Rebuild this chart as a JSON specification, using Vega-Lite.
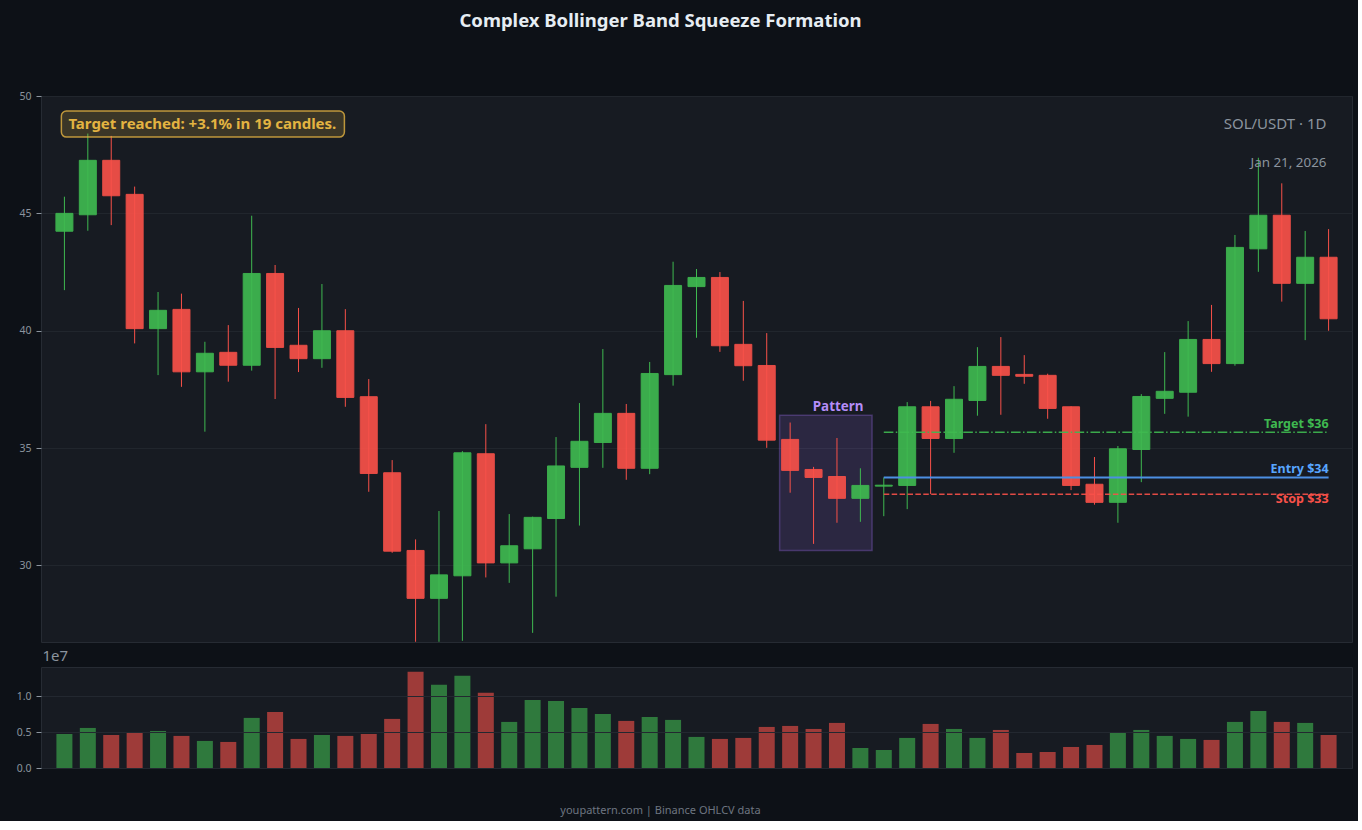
{
  "$schema": "https://vega.github.io/schema/vega-lite/v6.json",
  "background": "#0d1117",
  "padding": {"left": 12, "top": 12, "right": 5, "bottom": 5},
  "title": {"text": "Complex Bollinger Band Squeeze Formation", "color": "#e6edf3", "fontSize": 18.5, "fontWeight": "bold", "font": "Noto Sans", "anchor": "middle", "frame": "group", "offset": 60, "dx": -36},
  "spacing": 25,
  "bounds": "flush",
  "config": {
    "font": "Noto Sans",
    "view": {"fill": "#171b22", "stroke": "#262b33", "strokeWidth": 1},
    "axis": {"domain": false, "labelColor": "#8b949e", "tickColor": "#8b949e", "gridColor": "#21262d", "labelFont": "Noto Sans", "labelFontSize": 10.5, "tickSize": 5, "labelPadding": 5, "titleFont": "Noto Sans"},
    "axisY": {"minExtent": 28, "maxExtent": 28}
  },
  "datasets": {
    "ohlcv": [
      {"i": 0, "o": 44.24, "h": 45.71, "l": 41.73, "c": 45.0, "v": 4740000},
      {"i": 1, "o": 44.94, "h": 48.4, "l": 44.26, "c": 47.26, "v": 5580000},
      {"i": 2, "o": 47.26, "h": 48.3, "l": 44.5, "c": 45.75, "v": 4600000},
      {"i": 3, "o": 45.81, "h": 46.14, "l": 39.46, "c": 40.09, "v": 4880000},
      {"i": 4, "o": 40.09, "h": 41.65, "l": 38.11, "c": 40.87, "v": 5160000},
      {"i": 5, "o": 40.91, "h": 41.58, "l": 37.61, "c": 38.25, "v": 4470000},
      {"i": 6, "o": 38.25, "h": 39.53, "l": 35.7, "c": 39.04, "v": 3770000},
      {"i": 7, "o": 39.08, "h": 40.24, "l": 37.83, "c": 38.53, "v": 3630000},
      {"i": 8, "o": 38.53, "h": 44.9, "l": 38.3, "c": 42.44, "v": 6980000},
      {"i": 9, "o": 42.44, "h": 42.8, "l": 37.09, "c": 39.29, "v": 7810000},
      {"i": 10, "o": 39.38, "h": 40.97, "l": 38.24, "c": 38.81, "v": 4050000},
      {"i": 11, "o": 38.81, "h": 41.99, "l": 38.42, "c": 40.0, "v": 4600000},
      {"i": 12, "o": 40.0, "h": 40.92, "l": 36.76, "c": 37.16, "v": 4470000},
      {"i": 13, "o": 37.19, "h": 37.94, "l": 33.14, "c": 33.92, "v": 4740000},
      {"i": 14, "o": 33.95, "h": 34.49, "l": 30.54, "c": 30.61, "v": 6840000},
      {"i": 15, "o": 30.64, "h": 31.11, "l": 26.75, "c": 28.6, "v": 13400000},
      {"i": 16, "o": 28.6, "h": 32.32, "l": 26.75, "c": 29.6, "v": 11580000},
      {"i": 17, "o": 29.56, "h": 34.87, "l": 26.79, "c": 34.8, "v": 12840000},
      {"i": 18, "o": 34.76, "h": 36.02, "l": 29.49, "c": 30.11, "v": 10470000},
      {"i": 19, "o": 30.11, "h": 32.19, "l": 29.26, "c": 30.84, "v": 6420000},
      {"i": 20, "o": 30.71, "h": 32.08, "l": 27.13, "c": 32.05, "v": 9490000},
      {"i": 21, "o": 32.0, "h": 35.47, "l": 28.67, "c": 34.24, "v": 9350000},
      {"i": 22, "o": 34.18, "h": 36.92, "l": 31.7, "c": 35.29, "v": 8370000},
      {"i": 23, "o": 35.24, "h": 39.22, "l": 34.16, "c": 36.48, "v": 7530000},
      {"i": 24, "o": 36.48, "h": 36.88, "l": 33.65, "c": 34.14, "v": 6560000},
      {"i": 25, "o": 34.14, "h": 38.67, "l": 33.89, "c": 38.18, "v": 7120000},
      {"i": 26, "o": 38.13, "h": 42.94, "l": 37.66, "c": 41.93, "v": 6700000},
      {"i": 27, "o": 41.88, "h": 42.63, "l": 39.7, "c": 42.27, "v": 4330000},
      {"i": 28, "o": 42.27, "h": 42.5, "l": 39.1, "c": 39.36, "v": 4050000},
      {"i": 29, "o": 39.42, "h": 41.27, "l": 37.87, "c": 38.51, "v": 4190000},
      {"i": 30, "o": 38.52, "h": 39.9, "l": 35.01, "c": 35.34, "v": 5720000},
      {"i": 31, "o": 35.37, "h": 36.09, "l": 33.1, "c": 34.05, "v": 5860000},
      {"i": 32, "o": 34.09, "h": 34.2, "l": 30.92, "c": 33.75, "v": 5440000},
      {"i": 33, "o": 33.79, "h": 35.43, "l": 31.82, "c": 32.86, "v": 6280000},
      {"i": 34, "o": 32.86, "h": 34.14, "l": 31.86, "c": 33.41, "v": 2790000},
      {"i": 35, "o": 33.38, "h": 33.75, "l": 32.1, "c": 33.42, "v": 2510000},
      {"i": 36, "o": 33.41, "h": 36.96, "l": 32.4, "c": 36.76, "v": 4190000},
      {"i": 37, "o": 36.76, "h": 37.01, "l": 33.04, "c": 35.41, "v": 6140000},
      {"i": 38, "o": 35.41, "h": 37.64, "l": 34.8, "c": 37.08, "v": 5440000},
      {"i": 39, "o": 37.03, "h": 39.3, "l": 36.38, "c": 38.48, "v": 4190000},
      {"i": 40, "o": 38.48, "h": 39.73, "l": 36.42, "c": 38.1, "v": 5300000},
      {"i": 41, "o": 38.14, "h": 38.96, "l": 37.74, "c": 38.06, "v": 2090000},
      {"i": 42, "o": 38.1, "h": 38.17, "l": 36.25, "c": 36.69, "v": 2230000},
      {"i": 43, "o": 36.76, "h": 36.78, "l": 33.21, "c": 33.41, "v": 2930000},
      {"i": 44, "o": 33.46, "h": 34.62, "l": 32.59, "c": 32.69, "v": 3210000},
      {"i": 45, "o": 32.69, "h": 35.09, "l": 31.82, "c": 34.97, "v": 4880000},
      {"i": 46, "o": 34.94, "h": 37.3, "l": 33.55, "c": 37.2, "v": 5300000},
      {"i": 47, "o": 37.12, "h": 39.09, "l": 36.46, "c": 37.42, "v": 4470000},
      {"i": 48, "o": 37.38, "h": 40.41, "l": 36.34, "c": 39.63, "v": 4050000},
      {"i": 49, "o": 39.63, "h": 41.1, "l": 38.25, "c": 38.6, "v": 3910000},
      {"i": 50, "o": 38.6, "h": 44.08, "l": 38.51, "c": 43.55, "v": 6420000},
      {"i": 51, "o": 43.49, "h": 47.37, "l": 42.51, "c": 44.92, "v": 7950000},
      {"i": 52, "o": 44.92, "h": 46.28, "l": 41.24, "c": 42.02, "v": 6420000},
      {"i": 53, "o": 42.02, "h": 44.25, "l": 39.6, "c": 43.13, "v": 6280000},
      {"i": 54, "o": 43.13, "h": 44.33, "l": 40.0, "c": 40.51, "v": 4600000}
    ],
    "levels": [
      {"name": "Target", "price": 35.68, "start": 35, "end": 54, "label": "Target $36"},
      {"name": "Entry", "price": 33.75, "start": 35, "end": 54, "label": "Entry $34"},
      {"name": "Stop", "price": 33.03, "start": 35, "end": 54, "label": "Stop $33"}
    ]
  },
  "vconcat": [
    {
      "width": 1311,
      "height": 546,
      "data": {"name": "ohlcv"},
      "layer": [
        {
          "data": {"values": [{"label": "Pattern"}]},
          "mark": {"type": "rect", "fill": "#a371f7", "fillOpacity": 0.15, "stroke": "#a371f7", "strokeOpacity": 0.3, "strokeWidth": 1.5},
          "encoding": {
            "x": {"datum": 30.55, "type": "quantitative", "scale": {"domain": [-1, 55], "nice": false, "zero": false, "padding": 0}, "axis": null},
            "x2": {"datum": 34.5},
            "y": {"datum": 30.64, "type": "quantitative", "scale": {"domain": [26.74, 50], "nice": false, "zero": false}, "axis": {"title": null, "values": [30, 35, 40, 45, 50], "grid": true}},
            "y2": {"datum": 36.4}
          }
        },
        {
          "data": {"values": [{"label": "Pattern"}]},
          "mark": {"type": "text", "color": "#b48cf7", "fontWeight": "bold", "fontSize": 13.4, "baseline": "middle", "align": "center"},
          "encoding": {
            "x": {"datum": 33.05, "type": "quantitative", "scale": {"domain": [-1, 55], "nice": false, "zero": false, "padding": 0}, "axis": null},
            "y": {"datum": 36.75, "type": "quantitative", "scale": {"domain": [26.74, 50], "nice": false, "zero": false}, "axis": {"title": null, "values": [30, 35, 40, 45, 50], "grid": true}},
            "text": {"field": "label"}
          }
        },
        {
          "mark": {"type": "rule", "strokeWidth": 1, "clip": true},
          "encoding": {
            "x": {"field": "i", "type": "quantitative", "scale": {"domain": [-1, 55], "nice": false, "zero": false, "padding": 0}, "axis": null},
            "y": {"field": "l", "type": "quantitative", "scale": {"domain": [26.74, 50], "nice": false, "zero": false}, "axis": {"title": null, "values": [30, 35, 40, 45, 50], "grid": true}},
            "y2": {"field": "h"},
            "color": {"condition": {"test": "datum.c >= datum.o", "value": "#3fb950"}, "value": "#f85149"}
          }
        },
        {
          "mark": {"type": "bar", "size": 17, "strokeWidth": 1, "opacity": 0.92},
          "encoding": {
            "x": {"field": "i", "type": "quantitative", "scale": {"domain": [-1, 55], "nice": false, "zero": false, "padding": 0}, "axis": null},
            "y": {"field": "o", "type": "quantitative", "scale": {"domain": [26.74, 50], "nice": false, "zero": false}, "axis": {"title": null, "values": [30, 35, 40, 45, 50], "grid": true}},
            "y2": {"field": "c"},
            "color": {"condition": {"test": "datum.c >= datum.o", "value": "#3fb950"}, "value": "#f85149"},
            "stroke": {"condition": {"test": "datum.c >= datum.o", "value": "#3fb950"}, "value": "#f85149"}
          }
        },
        {
          "data": {"name": "levels"},
          "transform": [{"filter": "datum.name == 'Target'"}],
          "mark": {"type": "rule", "stroke": "#3fb950", "strokeWidth": 1.5, "strokeDash": [9.6, 2.4, 1.5, 2.4], "opacity": 0.9},
          "encoding": {
            "x": {"field": "start", "type": "quantitative", "scale": {"domain": [-1, 55], "nice": false, "zero": false, "padding": 0}, "axis": null},
            "x2": {"field": "end"},
            "y": {"field": "price", "type": "quantitative", "scale": {"domain": [26.74, 50], "nice": false, "zero": false}, "axis": {"title": null, "values": [30, 35, 40, 45, 50], "grid": true}}
          }
        },
        {
          "data": {"name": "levels"},
          "transform": [{"filter": "datum.name == 'Entry'"}],
          "mark": {"type": "rule", "stroke": "#4c8fe3", "strokeWidth": 2},
          "encoding": {
            "x": {"field": "start", "type": "quantitative", "scale": {"domain": [-1, 55], "nice": false, "zero": false, "padding": 0}, "axis": null},
            "x2": {"field": "end"},
            "y": {"field": "price", "type": "quantitative", "scale": {"domain": [26.74, 50], "nice": false, "zero": false}, "axis": {"title": null, "values": [30, 35, 40, 45, 50], "grid": true}}
          }
        },
        {
          "data": {"name": "levels"},
          "transform": [{"filter": "datum.name == 'Stop'"}],
          "mark": {"type": "rule", "stroke": "#f85149", "strokeWidth": 1.5, "strokeDash": [5.5, 2.4], "opacity": 0.9},
          "encoding": {
            "x": {"field": "start", "type": "quantitative", "scale": {"domain": [-1, 55], "nice": false, "zero": false, "padding": 0}, "axis": null},
            "x2": {"field": "end"},
            "y": {"field": "price", "type": "quantitative", "scale": {"domain": [26.74, 50], "nice": false, "zero": false}, "axis": {"title": null, "values": [30, 35, 40, 45, 50], "grid": true}}
          }
        },
        {
          "data": {"name": "levels"},
          "transform": [{"filter": "datum.name != 'Stop'"}],
          "mark": {"type": "text", "align": "right", "baseline": "bottom", "dy": -1, "fontWeight": "bold", "fontSize": 12.5},
          "encoding": {
            "x": {"field": "end", "type": "quantitative", "scale": {"domain": [-1, 55], "nice": false, "zero": false, "padding": 0}, "axis": null},
            "y": {"field": "price", "type": "quantitative", "scale": {"domain": [26.74, 50], "nice": false, "zero": false}, "axis": {"title": null, "values": [30, 35, 40, 45, 50], "grid": true}},
            "text": {"field": "label"},
            "color": {"field": "name", "type": "nominal", "scale": {"domain": ["Target", "Entry", "Stop"], "range": ["#3fb950", "#58a6ff", "#f85149"]}, "legend": null}
          }
        },
        {
          "data": {"name": "levels"},
          "transform": [{"filter": "datum.name == 'Stop'"}],
          "mark": {"type": "text", "align": "right", "baseline": "top", "dy": -1, "fontWeight": "bold", "fontSize": 12.5},
          "encoding": {
            "x": {"field": "end", "type": "quantitative", "scale": {"domain": [-1, 55], "nice": false, "zero": false, "padding": 0}, "axis": null},
            "y": {"field": "price", "type": "quantitative", "scale": {"domain": [26.74, 50], "nice": false, "zero": false}, "axis": {"title": null, "values": [30, 35, 40, 45, 50], "grid": true}},
            "text": {"field": "label"},
            "color": {"field": "name", "type": "nominal", "scale": {"domain": ["Target", "Entry", "Stop"], "range": ["#3fb950", "#58a6ff", "#f85149"]}, "legend": null}
          }
        },
        {
          "data": {"values": [{"label": "Target reached: +3.1% in 19 candles."}]},
          "mark": {"type": "rect", "fill": "#e3b341", "fillOpacity": 0.18, "stroke": "#e3b341", "strokeOpacity": 0.8, "strokeWidth": 1.5, "cornerRadius": 5},
          "encoding": {
            "x": {"datum": -0.13, "type": "quantitative", "scale": {"domain": [-1, 55], "nice": false, "zero": false, "padding": 0}, "axis": null},
            "x2": {"datum": 11.96},
            "y": {"datum": 48.25, "type": "quantitative", "scale": {"domain": [26.74, 50], "nice": false, "zero": false}, "axis": {"title": null, "values": [30, 35, 40, 45, 50], "grid": true}},
            "y2": {"datum": 49.36}
          }
        },
        {
          "data": {"values": [{"label": "Target reached: +3.1% in 19 candles."}]},
          "mark": {"type": "text", "color": "#e3b341", "fontWeight": "bold", "fontSize": 15, "align": "left", "baseline": "middle"},
          "encoding": {
            "x": {"datum": 0.17, "type": "quantitative", "scale": {"domain": [-1, 55], "nice": false, "zero": false, "padding": 0}, "axis": null},
            "y": {"datum": 48.8, "type": "quantitative", "scale": {"domain": [26.74, 50], "nice": false, "zero": false}, "axis": {"title": null, "values": [30, 35, 40, 45, 50], "grid": true}},
            "text": {"field": "label"}
          }
        },
        {
          "data": {"values": [{"label": "SOL/USDT · 1D"}]},
          "mark": {"type": "text", "color": "#8b949e", "fontSize": 15, "align": "right", "baseline": "middle"},
          "encoding": {
            "x": {"datum": 53.91, "type": "quantitative", "scale": {"domain": [-1, 55], "nice": false, "zero": false, "padding": 0}, "axis": null},
            "y": {"datum": 48.81, "type": "quantitative", "scale": {"domain": [26.74, 50], "nice": false, "zero": false}, "axis": {"title": null, "values": [30, 35, 40, 45, 50], "grid": true}},
            "text": {"field": "label"}
          }
        },
        {
          "data": {"values": [{"label": "Jan 21, 2026"}]},
          "mark": {"type": "text", "color": "#8b949e", "fontSize": 13.4, "align": "right", "baseline": "middle"},
          "encoding": {
            "x": {"datum": 53.91, "type": "quantitative", "scale": {"domain": [-1, 55], "nice": false, "zero": false, "padding": 0}, "axis": null},
            "y": {"datum": 47.15, "type": "quantitative", "scale": {"domain": [26.74, 50], "nice": false, "zero": false}, "axis": {"title": null, "values": [30, 35, 40, 45, 50], "grid": true}},
            "text": {"field": "label"}
          }
        }
      ]
    },
    {
      "width": 1311,
      "height": 101,
      "data": {"name": "ohlcv"},
      "mark": {"type": "bar", "size": 16, "opacity": 0.6},
      "encoding": {
        "x": {"field": "i", "type": "quantitative", "scale": {"domain": [-1, 55], "nice": false, "zero": false, "padding": 0},
              "axis": {"title": "youpattern.com | Binance OHLCV data", "labels": false, "ticks": false, "grid": false, "domain": false, "titleColor": "#6e7681", "titleFontSize": 11, "titleFontWeight": "normal", "titleX": 619, "titleY": 42, "titleAlign": "center", "titleBaseline": "middle"}},
        "y": {"field": "v", "type": "quantitative", "scale": {"domain": [0, 14070000], "nice": false},
              "axis": {"title": "1e7", "titleAngle": 0, "titleX": 1, "titleY": -4, "titleAlign": "left", "titleBaseline": "bottom", "titleFontSize": 15, "titleFontWeight": "normal", "titleColor": "#8b949e", "values": [0, 5000000, 10000000], "labelExpr": "format(datum.value / 10000000, '.1f')", "grid": true, "gridColor": "#232830", "zindex": 1}},
        "color": {"condition": {"test": "datum.c >= datum.o", "value": "#3fb950"}, "value": "#f85149"}
      }
    }
  ]
}
